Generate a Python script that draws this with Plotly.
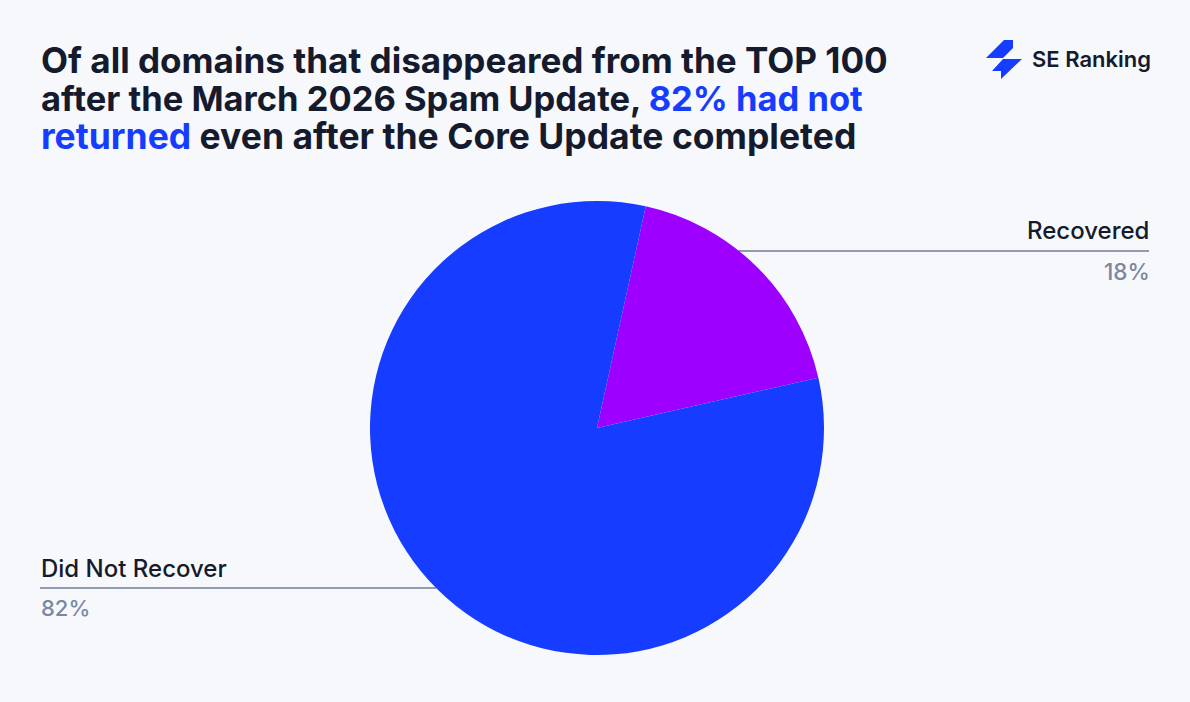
import plotly.graph_objects as go

categories = ["Recovered", "Did Not Recover"]
values = [18, 82]
colors = ["#9E00FF", "#163CFF"]
title_lines = [
    "Of all domains that disappeared from the TOP 100",
    "after the March 2026 Spam Update, <span style='color:#163CFF'>82% had not</span>",
    "<span style='color:#163CFF'>returned</span> even after the Core Update completed",
]
W, H = 1190, 702
BG = "#F6F8FC"
DARK = "#151B2C"
GREY = "#7C879F"
FONT = "Inter"

def px(x): return x / W
def py(y): return 1 - y / H

fig = go.Figure(go.Pie(
    labels=categories, values=values, sort=False, direction="clockwise", rotation=12.4,
    marker=dict(colors=colors, line=dict(width=0)), textinfo="none", hoverinfo="label+percent",
    showlegend=False,
    domain=dict(x=[px(370), px(824)], y=[py(655), py(201)]),
))

ann = []
def text(x, y, s, size, color, anchor="left", weight=None):
    ann.append(dict(x=px(x), y=py(y), xref="paper", yref="paper", text=s, showarrow=False,
                    xanchor=anchor, yanchor="middle", align=anchor, borderpad=0,
                    font=dict(family=FONT, size=size, color=color, weight=weight)))

for s, y, size in zip(title_lines, [60, 98, 136], [35.1, 34.5, 35.5]):
    text(40, y, s, size, DARK, weight=700)
text(1031, 59, "SE Ranking", 22, DARK, weight=600)
text(1150, 231, categories[0], 24, DARK, "right", 500)
text(1151, 271, f"{values[0]}%", 22.5, GREY, "right", 500)
text(40, 568, categories[1], 24, DARK, "left", 500)
text(40, 608, f"{values[1]}%", 22, GREY, "left", 500)

def poly(pts, color):
    d = "M" + " L".join(f"{px(x)},{py(y)}" for x, y in pts) + " Z"
    return dict(type="path", xref="paper", yref="paper", path=d, fillcolor=color, line=dict(width=0), layer="above")

def rule(x0, x1, y):
    return dict(type="line", xref="paper", yref="paper", x0=px(x0), x1=px(x1), y0=py(y), y1=py(y),
                line=dict(color="#727D96", width=1.6), layer="below")

shapes = [
    rule(738, 1149, 251), rule(40, 436, 588),
    poly([(1004, 40), (1013, 40), (1013, 48), (1003, 58), (986, 58)], colors[1]),
    poly([(1003, 59), (1022, 59), (1001, 79), (1001, 71), (992, 71)], colors[1]),
]

fig.update_layout(width=W, height=H, margin=dict(l=0, r=0, t=0, b=0), paper_bgcolor=BG, plot_bgcolor=BG,
                  annotations=ann, shapes=shapes, font=dict(family=FONT))
fig.write_html("out.html", config=dict(displayModeBar=False),
               post_script="document.body.style.margin='0';document.body.style.background='" + BG + "';")
